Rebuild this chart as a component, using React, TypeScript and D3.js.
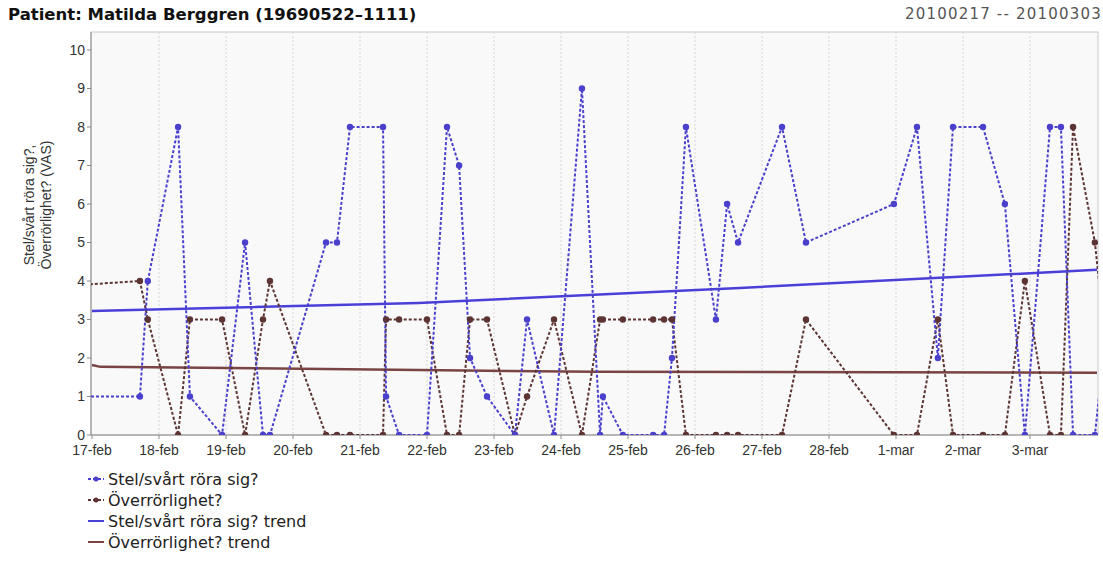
import React from 'react';
import * as d3 from 'd3';

// Measurement times (the first and last fall just outside the visible range)
const times = [
    "2010-02-09 00:00", "2010-02-17 17:10", "2010-02-17 20:00", "2010-02-18 06:50", "2010-02-18 11:05",
    "2010-02-18 22:35", "2010-02-19 06:50", "2010-02-19 13:15", "2010-02-19 15:45", "2010-02-20 11:50",
    "2010-02-20 15:45", "2010-02-20 20:25", "2010-02-21 08:15", "2010-02-21 09:20", "2010-02-21 14:00",
    "2010-02-22 00:00", "2010-02-22 07:10", "2010-02-22 11:30", "2010-02-22 15:25", "2010-02-22 21:30",
    "2010-02-23 07:30", "2010-02-23 11:50", "2010-02-23 21:30", "2010-02-24 07:30", "2010-02-24 14:00",
    "2010-02-24 15:00", "2010-02-24 22:10", "2010-02-25 09:00", "2010-02-25 12:55", "2010-02-25 15:45",
    "2010-02-25 20:45", "2010-02-26 07:30", "2010-02-26 11:30", "2010-02-26 15:25", "2010-02-27 07:10",
    "2010-02-27 15:45", "2010-02-28 23:15", "2010-03-01 07:30", "2010-03-01 15:00", "2010-03-01 20:25",
    "2010-03-02 07:10", "2010-03-02 15:00", "2010-03-02 22:10", "2010-03-03 07:10", "2010-03-03 11:05",
    "2010-03-03 15:25", "2010-03-03 23:15", "2010-03-04 02:10"
];

const stelValues = [
    1, 1, 4, 8, 1,
    0, 5, 0, 0, 5,
    5, 8, 8, 1, 0,
    0, 8, 7, 2, 1,
    0, 3, 0, 9, 0,
    1, 0, 0, 0, 2,
    8, 3, 6, 5, 8,
    5, 6, 8, 2, 8,
    8, 6, 0, 8, 8,
    0, 0, 2
];

const overValues = [
    3, 4, 3, 0, 3,
    3, 0, 3, 4, 0,
    0, 0, 0, 3, 3,
    3, 0, 0, 3, 3,
    0, 1, 3, 0, 3,
    3, 3, 3, 3, 3,
    0, 0, 0, 0, 0,
    3, 0, 0, 3, 0,
    0, 0, 4, 0, 0,
    8, 5, 3
];

const stelTrendTimes = ["2010-02-17 00:00", "2010-02-21 21:00", "2010-02-26 16:00", "2010-03-04 00:00"];
const stelTrendValues = [3.22, 3.43, 3.82, 4.29];
const overTrendTimes = ["2010-02-17 00:00", "2010-02-17 03:00", "2010-02-21 21:00", "2010-02-24 12:00", "2010-03-04 00:00"];
const overTrendValues = [1.82, 1.77, 1.69, 1.64, 1.62];

const tickDates = [
    "2010-02-17", "2010-02-18", "2010-02-19", "2010-02-20", "2010-02-21", "2010-02-22", "2010-02-23",
    "2010-02-24", "2010-02-25", "2010-02-26", "2010-02-27", "2010-02-28", "2010-03-01", "2010-03-02", "2010-03-03"
];
const tickLabels = [
    "17-feb", "18-feb", "19-feb", "20-feb", "21-feb", "22-feb", "23-feb",
    "24-feb", "25-feb", "26-feb", "27-feb", "28-feb", "1-mar", "2-mar", "3-mar"
];
const yTicks = [0, 1, 2, 3, 4, 5, 6, 7, 8, 9, 10];

const legendItems = [
    { label: "Stel/svårt röra sig?", color: "#4a40cc", dashed: true },
    { label: "Överrörlighet?", color: "#5c3434", dashed: true },
    { label: "Stel/svårt röra sig? trend", color: "#4a40d8", dashed: false },
    { label: "Överrörlighet? trend", color: "#7a4444", dashed: false },
];

const W = 1103;
const H = 565;
const plot = { left: 91, right: 1098, top: 32, bottom: 435 };

const parseTime = d3.timeParse("%Y-%m-%d %H:%M");
const parseDay = d3.timeParse("%Y-%m-%d");

export default function App() {
    const x = d3.scaleTime()
        .domain([parseDay("2010-02-17")!, parseDay("2010-03-04")!])
        .range([92, 1097]);
    const y = d3.scaleLinear()
        .domain([0, (plot.bottom - plot.top) / 38.5])
        .range([plot.bottom, plot.top]);

    const dates = times.map(t => parseTime(t)!);
    const stel = dates.map((d, i) => ({ d, v: stelValues[i] }));
    const over = dates.map((d, i) => ({ d, v: overValues[i] }));
    const stelTrend = stelTrendTimes.map((t, i) => ({ d: parseTime(t)!, v: stelTrendValues[i] }));
    const overTrend = overTrendTimes.map((t, i) => ({ d: parseTime(t)!, v: overTrendValues[i] }));

    const line = d3.line<{ d: Date; v: number }>()
        .x(p => x(p.d))
        .y(p => y(p.v));

    const xDomain = x.domain();
    const visible = (p: { d: Date }) => p.d >= xDomain[0] && p.d <= xDomain[1];

    const blue = "#4a40cc";
    const brown = "#5c3434";

    return (
        <svg width={W} height={H} style={{ position: 'absolute', left: 0, top: 0, background: '#fff' }}>
            <defs>
                <clipPath id="plotClip">
                    <rect x={plot.left} y={plot.top} width={plot.right - plot.left} height={plot.bottom - plot.top} />
                </clipPath>
            </defs>

            {/* title */}
            <text x={8} y={20} fontFamily="DejaVu Sans" fontWeight="bold" fontSize={16.5} fill="#111">
                Patient: Matilda Berggren (19690522–1111)
            </text>
            <text x={1102} y={19} textAnchor="end" fontFamily="DejaVu Sans" fontSize={15} fill="#555" letterSpacing={1.2}>
                20100217 -- 20100303
            </text>

            {/* plot background */}
            <rect x={plot.left} y={plot.top} width={plot.right - plot.left} height={plot.bottom - plot.top}
                fill="#f9f9f9" stroke="#c8c8c8" />

            {/* vertical grid */}
            {tickDates.slice(1).map(t => (
                <line key={t} x1={x(parseDay(t)!)} x2={x(parseDay(t)!)} y1={plot.top} y2={plot.bottom}
                    stroke="#d6d6d6" strokeDasharray="2,2" />
            ))}

            {/* axes */}
            <line x1={plot.left} x2={plot.left} y1={plot.top} y2={plot.bottom} stroke="#8a8a8a" />
            <line x1={plot.left} x2={plot.right} y1={plot.bottom} y2={plot.bottom} stroke="#8a8a8a" />
            {yTicks.map(v => (
                <g key={v} transform={`translate(0,${y(v)})`}>
                    <line x1={plot.left - 4} x2={plot.left} stroke="#8a8a8a" />
                    <text x={plot.left - 6} dy="0.35em" textAnchor="end" fontFamily="Liberation Sans" fontSize={14} fill="#333">{v}</text>
                </g>
            ))}
            {tickDates.map((t, i) => (
                <g key={t} transform={`translate(${x(parseDay(t)!)},0)`}>
                    <line y1={plot.bottom} y2={plot.bottom + 4} stroke="#8a8a8a" />
                    <text y={plot.bottom + 20} textAnchor="middle" fontFamily="Liberation Sans" fontSize={14} fill="#333">{tickLabels[i]}</text>
                </g>
            ))}

            {/* y axis title */}
            <text transform="translate(34,205) rotate(-90)" textAnchor="middle" fontFamily="Liberation Sans" fontSize={14} fill="#333">
                <tspan x={0} dy={0}>Stel/svårt röra sig?,</tspan>
                <tspan x={0} dy={17}>Överrörlighet? (VAS)</tspan>
            </text>

            <g clipPath="url(#plotClip)">
                {/* trends */}
                <path d={line(stelTrend)!} fill="none" stroke="#4a40d8" strokeWidth={2.5} />
                <path d={line(overTrend)!} fill="none" stroke="#7a4444" strokeWidth={2.5} />

                {/* series */}
                <path d={line(over)!} fill="none" stroke={brown} strokeWidth={2} strokeDasharray="3,2" />
                <path d={line(stel)!} fill="none" stroke={blue} strokeWidth={2} strokeDasharray="3,2" />
                {over.filter(visible).map((p, i) => (
                    <circle key={'o' + i} cx={x(p.d)} cy={y(p.v)} r={3.2} fill={brown} />
                ))}
                {stel.filter(visible).map((p, i) => (
                    <circle key={'s' + i} cx={x(p.d)} cy={y(p.v)} r={3.2} fill={blue} />
                ))}
            </g>

            {/* legend */}
            {legendItems.map((item, i) => {
                const cy = 479 + i * 21;
                return (
                    <g key={item.label} transform={`translate(0,${cy})`}>
                        {item.dashed ? (
                            <>
                                <line x1={88} x2={104} stroke={item.color} strokeWidth={2} strokeDasharray="3,2" />
                                <circle cx={96} cy={0} r={2.5} fill={item.color} />
                            </>
                        ) : (
                            <line x1={88} x2={104} stroke={item.color} strokeWidth={2} />
                        )}
                        <text x={108} dy="0.35em" fontFamily="DejaVu Sans" fontSize={16} fill="#222">{item.label}</text>
                    </g>
                );
            })}
        </svg>
    );
}
